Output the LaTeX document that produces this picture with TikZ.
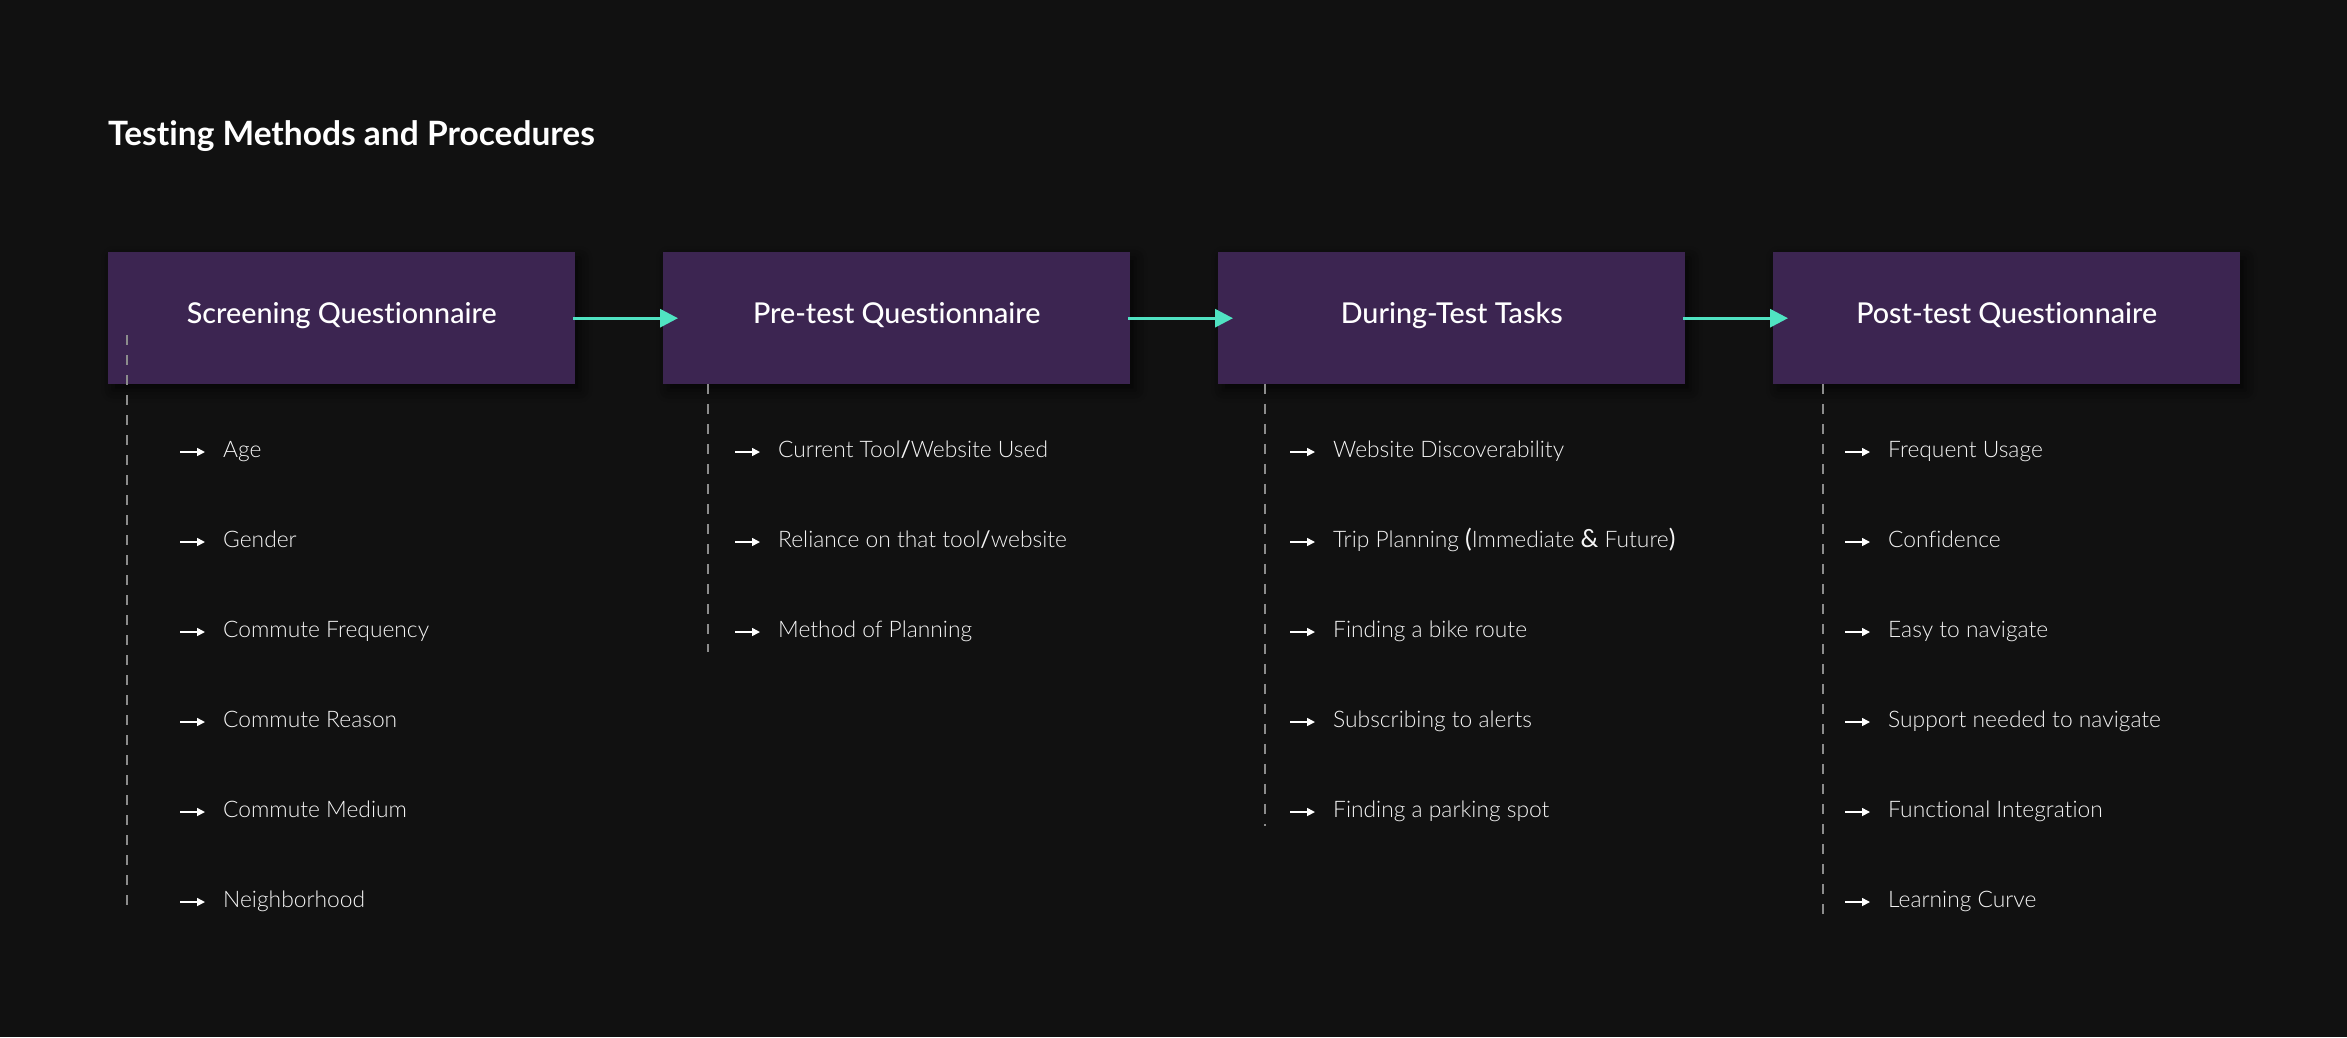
\documentclass[tikz,border=0pt]{standalone}
\usepackage{fontspec}
\setmainfont{Lato}[Ligatures=NoCommon]
\newfontfamily\lightfont{Lato Light}[Ligatures=NoCommon]
\newfontfamily\medfont{Lato Medium}[Ligatures=NoCommon]
\newfontfamily\regfont{Lato}[Ligatures=NoCommon]
\usetikzlibrary{arrows.meta,shadows.blur}
\definecolor{bg}{HTML}{111111}
\definecolor{boxpurple}{HTML}{3C2551}
\definecolor{teal}{HTML}{50E3C2}
\definecolor{dashgray}{HTML}{8C8C8C}
\definecolor{itemtext}{HTML}{F5F5F5}
\tikzset{
  stagebox/.style={rectangle, fill=boxpurple, draw=none, minimum width=467pt, minimum height=132pt,
    inner sep=0pt, text=white, font=\medfont\fontsize{28.7}{34}\selectfont, text height=20.5pt, text depth=10pt,
    blur shadow={shadow xshift=5pt, shadow yshift=-6pt, shadow blur radius=12pt, shadow opacity=70}},
  flow/.style={teal, line width=3pt, -{Triangle[length=18pt,width=18pt]}},
  guide/.style={dashgray, line width=1.2pt, dash pattern=on 10pt off 10pt},
  bullet/.style={white, line width=1.6pt, -{Triangle[length=8pt,width=8pt]}},
  itemlabel/.style={anchor=base west, inner sep=0pt, text=itemtext, font=\lightfont\fontsize{22.8}{27}\selectfont},
  titlelabel/.style={anchor=base west, inner sep=0pt, text=white, font=\bfseries\fontsize{33.5}{40}\selectfont}
}
\newcommand{\heavy}[1]{{\regfont\fontsize{25}{27}\selectfont #1}}
\begin{document}
\begin{tikzpicture}[x=1pt,y=-1pt]
\fill[bg] (0,0) rectangle (2347,1037);
\useasboundingbox (0,0) rectangle (2347,1037);

\node[titlelabel] (title) at (108,145) {Testing Methods and Procedures};

% stage boxes
\node[stagebox, anchor=north west] (b1) at (108,252) {Screening Questionnaire};
\node[stagebox, anchor=north west] (b2) at (663,252) {Pre-test Questionnaire};
\node[stagebox, anchor=north west] (b3) at (1218,252) {During-Test Tasks};
\node[stagebox, anchor=north west] (b4) at (1773,252) {Post-test Questionnaire};

% flow arrows
\draw[flow] ([xshift=-2pt]b1.east) -- ([xshift=15pt]b2.west);
\draw[flow] ([xshift=-2pt]b2.east) -- ([xshift=15pt]b3.west);
\draw[flow] ([xshift=-2pt]b3.east) -- ([xshift=15pt]b4.west);

% guide lines
\coordinate (g1s) at (127,335);  \coordinate (g1e) at (127,915);
\coordinate (g2s) at (708,384);  \coordinate (g2e) at (708,652);
\coordinate (g3s) at (1265,384); \coordinate (g3e) at (1265,826);
\coordinate (g4s) at (1823,384); \coordinate (g4e) at (1823,915);
\draw[guide] (g1s) -- (g1e);
\draw[guide] (g2s) -- (g2e);
\draw[guide] (g3s) -- (g3e);
\draw[guide] (g4s) -- (g4e);

% list items
\newcommand{\listitem}[4]{% name, box left x, row index, text
  \node[itemlabel] (#1) at ({#2+115},{457.5+90*(#3)}) {#4};
  \coordinate (#1b) at ({#2+72},{452+90*(#3)});
  \draw[bullet] (#1b) -- ++(25,0);
}
\listitem{a1}{108}{0}{Age}
\listitem{a2}{108}{1}{Gender}
\listitem{a3}{108}{2}{Commute Frequency}
\listitem{a4}{108}{3}{Commute Reason}
\listitem{a5}{108}{4}{Commute Medium}
\listitem{a6}{108}{5}{Neighborhood}

\listitem{p1}{663}{0}{Current Tool{\regfont/}Website Used}
\listitem{p2}{663}{1}{Reliance on that tool{\regfont/}website}
\listitem{p3}{663}{2}{Method of Planning}

\listitem{d1}{1218}{0}{Website Discoverability}
\listitem{d2}{1218}{1}{Trip Planning \heavy{(}Immediate \heavy{\&} Future\heavy{)}}
\listitem{d3}{1218}{2}{Finding a bike route}
\listitem{d4}{1218}{3}{Subscribing to alerts}
\listitem{d5}{1218}{4}{Finding a parking spot}

\listitem{q1}{1773}{0}{Frequent Usage}
\listitem{q2}{1773}{1}{Confidence}
\listitem{q3}{1773}{2}{Easy to navigate}
\listitem{q4}{1773}{3}{Support needed to navigate}
\listitem{q5}{1773}{4}{Functional Integration}
\listitem{q6}{1773}{5}{Learning Curve}
\end{tikzpicture}
\end{document}
